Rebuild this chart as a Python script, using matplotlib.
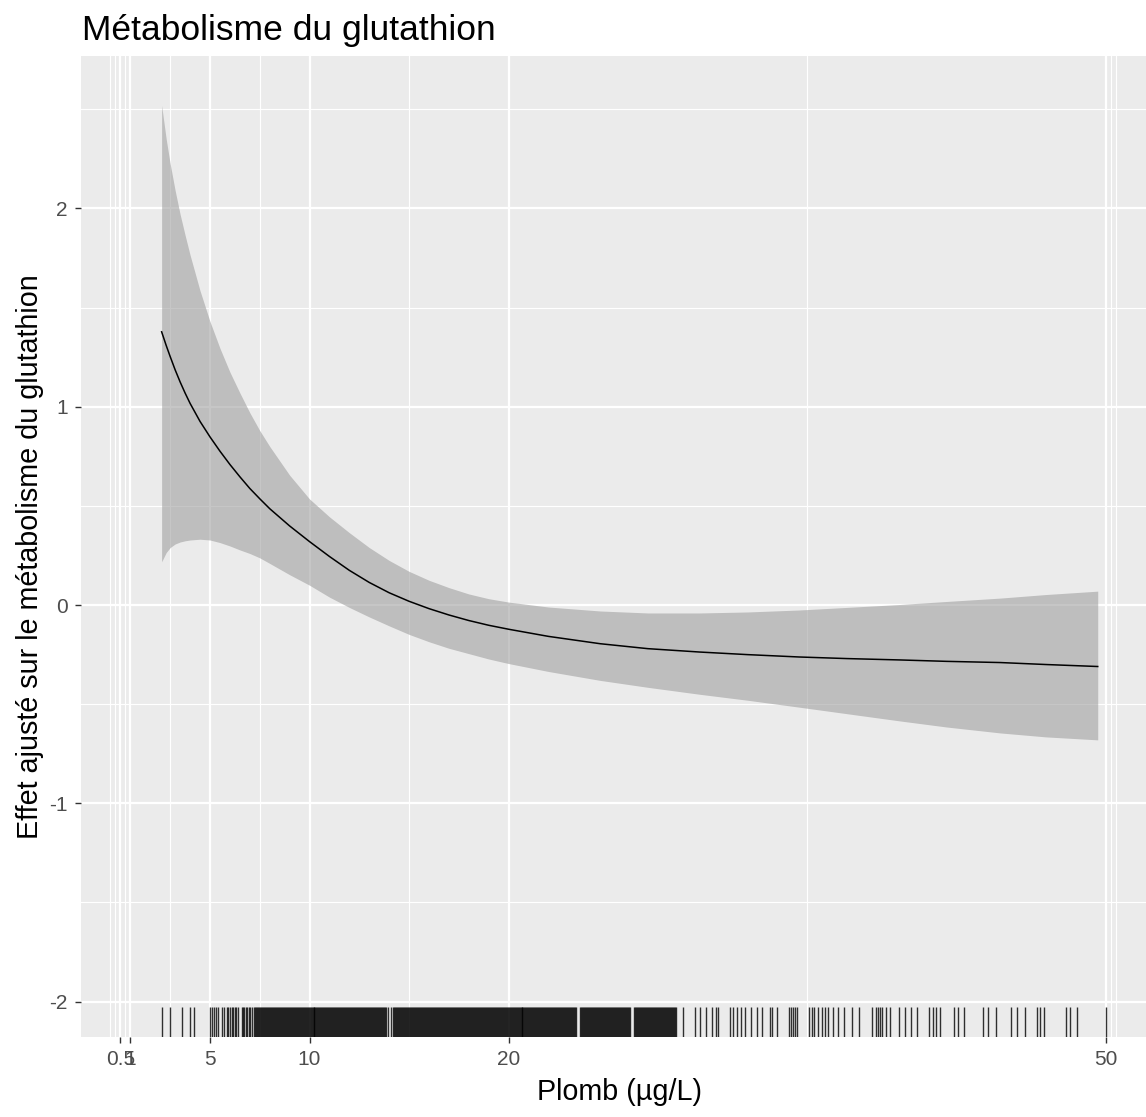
import matplotlib
matplotlib.use("Agg")
import matplotlib.pyplot as plt

plt.rcParams['font.family'] = ['Liberation Sans', 'DejaVu Sans']
plt.rcParams['axes.unicode_minus'] = False

title = "Métabolisme du glutathion"
x_label = "Plomb (µg/L)"
y_label = "Effet ajusté sur le métabolisme du glutathion"

# Smoothed adjusted effect with its confidence band
lead = [2.57, 2.8, 3.0, 3.25, 3.5, 3.75, 4.0, 4.5, 5.0, 5.5, 6.0, 6.5, 7.0, 7.5,
        8.0, 9.0, 10.0, 11.0, 12.0, 13.0, 14.0, 15.0, 16.0, 17.0, 18.0, 19.0,
        20.0, 22.0, 24.6, 27.0, 29.6, 32.0, 34.6, 37.0, 39.7, 42.0, 44.7, 47.0,
        49.6]
effect = [1.378, 1.309, 1.253, 1.186, 1.125, 1.069, 1.017, 0.926, 0.848, 0.776,
          0.709, 0.647, 0.588, 0.536, 0.486, 0.399, 0.32, 0.245, 0.175, 0.114,
          0.062, 0.019, -0.018, -0.05, -0.078, -0.102, -0.122, -0.158, -0.195,
          -0.22, -0.237, -0.25, -0.262, -0.27, -0.277, -0.284, -0.29, -0.30,
          -0.31]
upper = [2.52, 2.35, 2.225, 2.09, 1.97, 1.865, 1.765, 1.585, 1.43, 1.295,
         1.175, 1.07, 0.97, 0.88, 0.80, 0.655, 0.535, 0.445, 0.365, 0.29,
         0.225, 0.17, 0.125, 0.088, 0.056, 0.032, 0.015, -0.01, -0.03, -0.04,
         -0.04, -0.035, -0.025, -0.012, 0.003, 0.018, 0.035, 0.053, 0.07]
lower = [0.218, 0.265, 0.29, 0.308, 0.318, 0.324, 0.328, 0.332, 0.328, 0.315,
         0.298, 0.278, 0.26, 0.238, 0.21, 0.153, 0.10, 0.04, -0.012, -0.06,
         -0.105, -0.148, -0.185, -0.218, -0.245, -0.272, -0.295, -0.335, -0.38,
         -0.415, -0.45, -0.48, -0.515, -0.548, -0.585, -0.615, -0.645, -0.665,
         -0.68]

x_breaks = [0.5, 1, 5, 10, 20, 50]
x_tick_labels = ["0.5", "1", "5", "10", "20", "50"]
x_minor = [0, 0.25, 0.75, 3, 7.5, 15, 35, 50.25, 50.5]
y_breaks = [-2, -1, 0, 1, 2]
y_tick_labels = ["-2", "-1", "0", "1", "2"]
y_minor = [-1.5, -0.5, 0.5, 1.5, 2.5]

# Observed lead concentrations (rug)
rug_lead = [
    2.58, 3.00, 3.58, 4.00, 4.21, 5.00, 5.08, 5.20, 5.30, 5.42, 5.62, 5.70, 5.84,
    5.92, 6.00, 6.09, 6.17, 6.25, 6.33, 6.42, 6.59, 6.65, 6.72, 6.80, 6.88, 6.95,
    7.00, 7.10,
    7.20, 7.25, 7.30, 7.35, 7.40, 7.45, 7.50, 7.55, 7.60, 7.65, 7.70, 7.75, 7.80, 7.85, 7.90, 7.95,
    8.00, 8.05, 8.10, 8.15, 8.20, 8.25, 8.30, 8.35, 8.40, 8.45, 8.50, 8.55, 8.60, 8.65, 8.70, 8.75, 8.80, 8.85, 8.90, 8.95,
    9.00, 9.05, 9.10, 9.15, 9.20, 9.25, 9.30, 9.35, 9.40, 9.45, 9.50, 9.55, 9.60, 9.65, 9.70, 9.75, 9.80, 9.85, 9.90, 9.95,
    10.00, 10.05, 10.10, 10.15, 10.20, 10.25, 10.30, 10.35, 10.40, 10.45, 10.50, 10.55, 10.60, 10.65, 10.70, 10.75, 10.80, 10.85, 10.90, 10.95,
    11.00, 11.05, 11.10, 11.15, 11.20, 11.25, 11.30, 11.35, 11.40, 11.45, 11.50, 11.55, 11.60, 11.65, 11.70, 11.75, 11.80, 11.85, 11.90, 11.95,
    12.00, 12.05, 12.10, 12.15, 12.20, 12.25, 12.30, 12.35, 12.40, 12.45, 12.50, 12.55, 12.60, 12.65, 12.70, 12.75, 12.80, 12.85, 12.90, 12.95,
    13.00, 13.05, 13.10, 13.15, 13.20, 13.25, 13.30, 13.35, 13.40, 13.45, 13.50, 13.55, 13.60, 13.65, 13.70, 13.75, 13.80, 13.85,
    13.96, 14.10,
    14.20, 14.25, 14.30, 14.35, 14.40, 14.45, 14.50, 14.55, 14.60, 14.65, 14.70, 14.75, 14.80, 14.85, 14.90, 14.95,
    15.00, 15.05, 15.10, 15.15, 15.20, 15.25, 15.30, 15.35, 15.40, 15.45, 15.50, 15.55, 15.60, 15.65, 15.70, 15.75, 15.80, 15.85, 15.90, 15.95,
    16.00, 16.05, 16.10, 16.15, 16.20, 16.25, 16.30, 16.35, 16.40, 16.45, 16.50, 16.55, 16.60, 16.65, 16.70, 16.75, 16.80, 16.85, 16.90, 16.95,
    17.00, 17.05, 17.10, 17.15, 17.20, 17.25, 17.30, 17.35, 17.40, 17.45, 17.50, 17.55, 17.60, 17.65, 17.70, 17.75, 17.80, 17.85, 17.90, 17.95,
    18.00, 18.05, 18.10, 18.15, 18.20, 18.25, 18.30, 18.35, 18.40, 18.45, 18.50, 18.55, 18.60, 18.65, 18.70, 18.75, 18.80, 18.85, 18.90, 18.95,
    19.00, 19.05, 19.10, 19.15, 19.20, 19.25, 19.30, 19.35, 19.40, 19.45, 19.50, 19.55, 19.60, 19.65, 19.70, 19.75, 19.80, 19.85, 19.90, 19.95,
    20.00, 20.05, 20.10, 20.15, 20.20, 20.25, 20.30, 20.35, 20.40, 20.45, 20.50, 20.55, 20.60, 20.65, 20.70, 20.75, 20.80, 20.85, 20.90, 20.95,
    21.00, 21.05, 21.10, 21.15, 21.20, 21.25, 21.30, 21.35, 21.40, 21.45, 21.50, 21.55, 21.60, 21.65, 21.70, 21.75, 21.80, 21.85, 21.90, 21.95,
    22.00, 22.05, 22.10, 22.15, 22.20, 22.25, 22.30, 22.35, 22.40, 22.45, 22.50, 22.55, 22.60, 22.65, 22.70, 22.75, 22.80, 22.85, 22.90, 22.95,
    23.00, 23.05, 23.10, 23.15, 23.20, 23.25, 23.30, 23.35, 23.40, 23.60, 23.65, 23.70, 23.75, 23.80, 23.85, 23.90, 23.95,
    24.00, 24.05, 24.10, 24.15, 24.20, 24.25, 24.30, 24.35, 24.40, 24.45, 24.50, 24.55, 24.60, 24.65, 24.70, 24.75, 24.80, 24.85, 24.90, 24.95,
    25.00, 25.05, 25.10, 25.15, 25.20, 25.25, 25.30, 25.35, 25.40, 25.45, 25.50, 25.55, 25.60, 25.65, 25.70, 25.75, 25.80, 25.85, 25.90, 25.95,
    26.00, 26.05, 26.10, 26.30, 26.35, 26.40, 26.45, 26.50, 26.55, 26.60, 26.65, 26.70, 26.75, 26.80, 26.85, 26.90, 26.95,
    27.00, 27.05, 27.10, 27.15, 27.20, 27.25, 27.30, 27.35, 27.40, 27.45, 27.50, 27.55, 27.60, 27.65, 27.70, 27.75, 27.80, 27.85, 27.90, 27.95,
    28.00, 28.05, 28.10, 28.15, 28.20, 28.25, 28.30, 28.35, 28.40,
    28.77, 29.35, 29.64, 29.93, 30.22, 30.42, 30.51, 31.10, 31.29, 31.48, 31.68,
    31.87, 32.16, 32.46, 32.75, 33.14, 33.23, 33.47, 34.10, 34.20, 34.30, 34.40,
    34.49, 35.08, 35.23, 35.37, 35.56, 35.76, 35.89, 36.05, 36.28, 36.53, 36.86,
    37.27, 37.60, 38.28, 38.44, 38.57, 38.67, 38.77, 38.96, 39.16, 39.64, 39.93,
    40.22, 40.52, 41.10, 41.30, 41.49, 41.68, 42.36, 42.60, 42.90, 43.82, 44.10,
    44.50, 45.23, 45.56, 45.95, 46.53, 46.72, 46.92, 47.99, 48.19, 48.57, 50.00,
]

W, H = 1146, 1117
fig = plt.figure(figsize=(W / 100, H / 100), dpi=100)
fig.patch.set_facecolor("white")

left_px, right_px, top_px, bottom_px = 80.7, 1158.0, 56.0, 1036.7
ax = fig.add_axes([left_px / W, 1 - bottom_px / H,
                   (right_px - left_px) / W, (bottom_px - top_px) / H])
ax.set_facecolor("#EBEBEB")
for s in ax.spines.values():
    s.set_visible(False)

ax.set_xlim(-1.496, 52.628)
ax.set_ylim(-2.177, 2.769)

ax.set_xticks(x_breaks)
ax.set_xticklabels(x_tick_labels)
ax.set_xticks(x_minor, minor=True)
ax.set_yticks(y_breaks)
ax.set_yticklabels(y_tick_labels)
ax.set_yticks(y_minor, minor=True)

ax.grid(which="major", color="white", linewidth=1.6)
ax.grid(which="minor", color="white", linewidth=0.8)
ax.set_axisbelow(True)

ax.tick_params(which="major", length=4.3, width=1.0, color="#333333",
               labelsize=15, labelcolor="#4D4D4D", pad=5)
ax.tick_params(which="minor", length=0)

ax.fill_between(lead, lower, upper, color="#A0A0A0", alpha=0.6,
                linewidth=0, zorder=2)
ax.plot(lead, effect, color="black", linewidth=1.1, zorder=3)

ax.vlines(rug_lead, 0, 0.03, transform=ax.get_xaxis_transform(),
          color="black", alpha=0.8, linewidth=1.0, zorder=4)

fig.text(82 / W, 1 - 40 / H, title, fontsize=25.5, ha="left", va="baseline")
fig.text(30.5 / W, 1 - 557 / H, y_label, fontsize=20.7, rotation=90,
         ha="center", va="center")
fig.text(619.5 / W, 1 - 1092 / H, x_label, fontsize=20.7,
         ha="center", va="center")

fig.savefig("out.png", dpi=100)
